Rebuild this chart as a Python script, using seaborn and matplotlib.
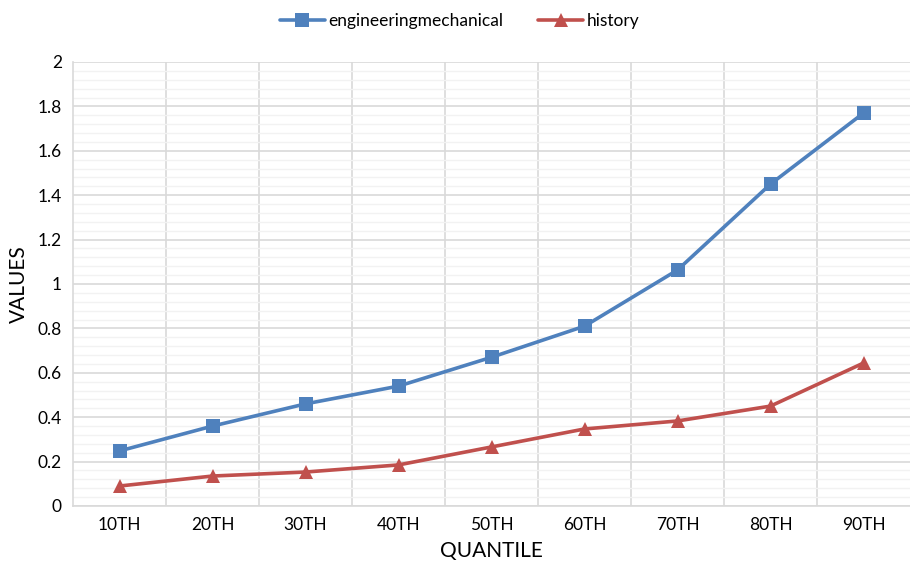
import matplotlib
matplotlib.use("Agg")
import matplotlib.pyplot as plt
from matplotlib.ticker import MultipleLocator, FuncFormatter
import seaborn as sns
import pandas as pd

quantiles = ["10TH", "20TH", "30TH", "40TH", "50TH", "60TH", "70TH", "80TH", "90TH"]
engineering = [0.248, 0.36, 0.46, 0.54, 0.67, 0.81, 1.063, 1.45, 1.77]
history = [0.09, 0.135, 0.153, 0.185, 0.266, 0.347, 0.383, 0.45, 0.644]

sns.set_theme(style="white")
plt.rcParams["font.family"] = ["Lato", "DejaVu Sans"]
plt.rcParams["text.color"] = "black"
plt.rcParams["axes.labelcolor"] = "black"

df = pd.DataFrame({
    "quantile": quantiles * 2,
    "value": engineering + history,
    "series": ["engineeringmechanical"] * len(quantiles) + ["history"] * len(quantiles),
})

fig = plt.figure(figsize=(9.1, 5.63), dpi=100)
ax = fig.add_axes([73 / 910, 1 - 506 / 563, 1 - 73 / 910, (506 - 62) / 563])

palette = {"engineeringmechanical": "#4f81bd", "history": "#c0504d"}
markers = {"engineeringmechanical": "s", "history": "^"}
sns.lineplot(data=df, x="quantile", y="value", hue="series", style="series",
             palette=palette, markers=markers, dashes=False, linewidth=2.6,
             markersize=10.5, markeredgewidth=0, ax=ax, zorder=3)

ax.set_ylim(0, 2)
ax.set_xlim(-0.5, len(quantiles) - 0.5)
ax.yaxis.set_major_locator(MultipleLocator(0.2))
ax.yaxis.set_minor_locator(MultipleLocator(0.04))
ax.yaxis.set_major_formatter(FuncFormatter(lambda v, _: f"{v:g}"))
ax.set_xticks(range(len(quantiles)))
ax.set_xticks([i + 0.5 for i in range(len(quantiles) - 1)], minor=True)

ax.grid(which="major", axis="y", color="#d9d9d9", linewidth=1.2, zorder=1)
ax.grid(which="minor", axis="y", color="#f2f2f2", linewidth=1.0, zorder=0)
ax.grid(which="minor", axis="x", color="#d9d9d9", linewidth=1.2, zorder=1)
ax.grid(which="major", axis="x", visible=False)
ax.set_axisbelow(True)

for side in ["top", "right"]:
    ax.spines[side].set_visible(False)
for side in ["left", "bottom"]:
    ax.spines[side].set_color("#d9d9d9")
    ax.spines[side].set_linewidth(1.2)

ax.tick_params(axis="both", which="both", length=0, labelsize=12.5, colors="black", pad=8)
ax.set_xlabel("QUANTILE", fontsize=15, labelpad=6, color="black")
ax.set_ylabel("VALUES", fontsize=15, labelpad=6, color="black")

handles, labels = ax.get_legend_handles_labels()
ax.get_legend().remove()
fig.legend(handles, labels, loc="upper center", bbox_to_anchor=(0.505, 1.005), ncol=2,
           frameon=False, fontsize=12.5, handlelength=2.6, columnspacing=2.0,
           handletextpad=0.2, markerscale=1.0)

fig.savefig("out.png", dpi=100)
